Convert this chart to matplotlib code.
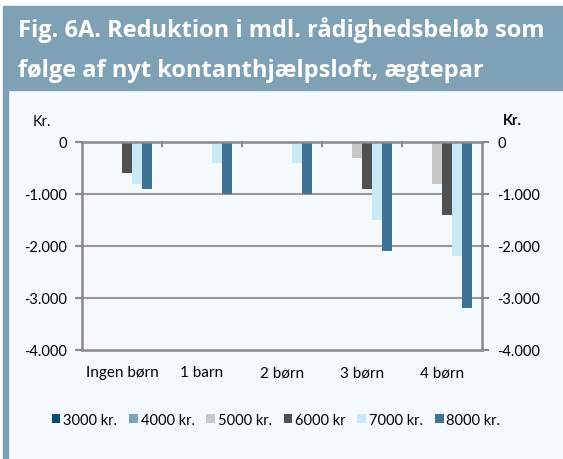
import numpy as np
import matplotlib.pyplot as plt
from matplotlib.patches import Rectangle

categories = ["Ingen børn", "1 barn", "2 børn", "3 børn", "4 børn"]
series_names = ["3000 kr.", "4000 kr.", "5000 kr.", "6000 kr", "7000 kr.", "8000 kr."]
v3000 = [0, 0, 0, 0, 0]
v4000 = [0, 0, 0, 0, 0]
v5000 = [0, 0, 0, -300, -800]
v6000 = [-600, 0, 0, -900, -1400]
v7000 = [-800, -400, -400, -1500, -2200]
v8000 = [-900, -1000, -1000, -2100, -3200]
colors = ["#0b4a70", "#7fa3b8", "#c8c8c8", "#505050", "#c8e9f8", "#3d7393"]
yticks = [0, -1000, -2000, -3000, -4000]

header_col = "#7fa1b6"
bg_col = "#f3f9fd"
grid_col = "#999999"
font = "Lato"

fig = plt.figure(figsize=(5.63, 4.6), dpi=100)
fig.patch.set_facecolor("white")

# panel background, header and left strip
fig.add_artist(Rectangle((3 / 563, 0), 560 / 563, 1 - 91 / 460,
                         transform=fig.transFigure, color=bg_col, zorder=0))
fig.add_artist(Rectangle((3 / 563, 1 - 91 / 460), 560 / 563, 84 / 460,
                         transform=fig.transFigure, color=header_col, zorder=0))
fig.add_artist(Rectangle((3 / 563, 0), 5 / 563, 1 - 91 / 460,
                         transform=fig.transFigure, color=header_col, zorder=0))
fig.text(18 / 563, 1 - 30 / 460, "Fig. 6A. Reduktion i mdl. rådighedsbeløb som",
         color="white", fontsize=17, fontweight="bold", family="Open Sans", va="center")
fig.text(18 / 563, 1 - 71 / 460, "følge af nyt kontanthjælpsloft, ægtepar",
         color="white", fontsize=17, fontweight="bold", family="Open Sans", va="center")

ax = fig.add_axes([82 / 563, 1 - 351 / 460, 400 / 563, 208 / 460])
ax.set_facecolor(bg_col)

data = [v3000, v4000, v5000, v6000, v7000, v8000]
x = np.arange(len(categories))
w = 0.125
for i, vals in enumerate(data):
    ax.bar(x + (i - 2.5) * w, vals, width=w, color=colors[i], label=series_names[i], zorder=3)

ax.set_xlim(-0.5, 4.5)
ax.set_ylim(-4000, 0)
ax.set_yticks(yticks)
ax.set_yticklabels([f"{v:,}".replace(",", ".") for v in yticks], fontsize=10.5, family=font)
for y in yticks[1:-1]:
    ax.axhline(y, color=grid_col, lw=1.5, zorder=1)

for s in ["left", "right", "bottom", "top"]:
    ax.spines[s].set_color("#888888")
    ax.spines[s].set_linewidth(1.8)
ax.spines["top"].set_zorder(4)

ax.tick_params(axis="y", length=5, width=1.5, color="#888888", pad=6)
ax.set_xticks([])
# category separators under zero line
for b in x[1:] - 0.5:
    ax.plot([b, b], [0, -70], color="#888888", lw=1.5, zorder=4, clip_on=False)

ax2 = ax.twinx()
ax2.set_ylim(-4000, 0)
ax2.set_yticks(yticks)
ax2.set_yticklabels([f"{v:,}".replace(",", ".") for v in yticks], fontsize=10.5, family=font)
ax2.tick_params(axis="y", length=5, width=1.5, color="#888888", pad=6)
for s in ax2.spines.values():
    s.set_visible(False)

for xi, c in zip(x, categories):
    ax.text(xi, -4430, c, ha="center", va="center", fontsize=11, family=font)

fig.text(33 / 563, 1 - 122 / 460, "Kr.", fontsize=10.5, family=font, va="center")
fig.text(503 / 563, 1 - 121 / 460, "Kr.", fontsize=10.5, family=font, fontweight="bold", va="center")

fig.legend(loc="center", bbox_to_anchor=(276 / 563, 1 - 421 / 460), ncol=6, frameon=False,
           prop={"family": font, "size": 10.5}, handlelength=0.6, handleheight=0.6,
           handletextpad=0.2, columnspacing=0.8)

fig.savefig("out.png", dpi=100)
